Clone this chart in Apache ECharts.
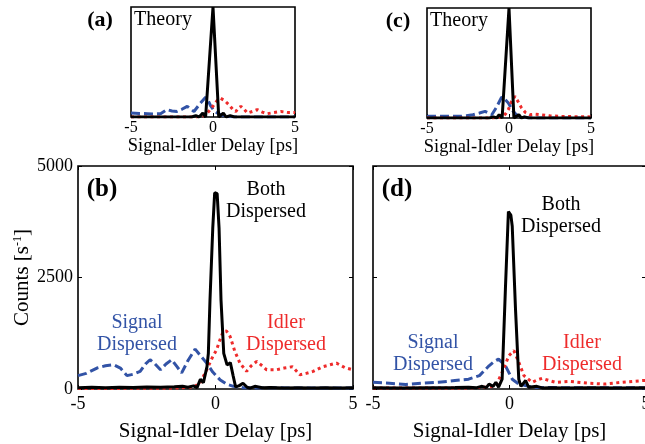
<!DOCTYPE html>
<html>
<head>
<meta charset="utf-8">
<script src="https://cdn.jsdelivr.net/npm/echarts@6/dist/echarts.min.js"></script>
<style>
  html, body { margin: 0; padding: 0; background: #fff; }
  #chart { width: 645px; height: 444px; }
</style>
</head>
<body>
<div id="chart"></div>
<script>
var FONT = '"Liberation Serif", "Times New Roman", serif'
var BLUE = '#3253a6'
var RED = '#ee2b2b'

// x ticks shared by all panels
var xTicks = [-5, 0, 5]
var countTicks = [0, 2500, 5000]

// (a) theory, normalised
var aBoth = [[-5, 0], [-1.3, 0], [-1.05, 0.012], [-0.85, 0], [-0.62, 0.035], [-0.45, 0], [-0.35, 0], [0, 1.0], [0.35, 0], [0.45, 0], [0.63, 0.036], [0.8, 0], [1.05, 0.012], [1.3, 0], [5, 0]]
var aSignal = [[-5, 0.036], [-4.5, 0.032], [-4, 0.03], [-3.6, 0.028], [-3.2, 0.03], [-2.8, 0.067], [-2.5, 0.055], [-2.2, 0.05], [-1.9, 0.07], [-1.57, 0.097], [-1.35, 0.07], [-1.16, 0.05], [-0.8, 0.12], [-0.45, 0.18], [-0.3, 0.15], [-0.14, 0.1], [0.05, 0.06], [0.27, 0.036], [0.55, 0.015], [0.9, 0.005], [1.5, 0], [5, 0]]
var aIdler = [[-5, 0], [-1, 0], [-0.6, 0.01], [-0.35, 0.036], [-0.15, 0.07], [0.06, 0.11], [0.25, 0.15], [0.47, 0.17], [0.7, 0.15], [0.98, 0.11], [1.2, 0.07], [1.39, 0.05], [1.55, 0.08], [1.7, 0.097], [1.9, 0.07], [2.1, 0.036], [2.4, 0.05], [2.7, 0.067], [3.0, 0.045], [3.3, 0.03], [3.7, 0.04], [4.14, 0.05], [4.6, 0.04], [5, 0.04]]

// (b) measured counts, s^-1
var bBoth = [[-5, 30], [-4.5, 40], [-4, 30], [-3.5, 40], [-3, 35], [-2.5, 45], [-2, 40], [-1.5, 50], [-1.2, 60], [-1, 40], [-0.8, 70], [-0.67, 30], [-0.55, 220], [-0.44, 140], [-0.31, 500], [-0.26, 800], [-0.2, 2000], [-0.1, 3600], [-0.03, 4400], [0.06, 4380], [0.13, 3600], [0.2, 2000], [0.3, 800], [0.42, 540], [0.54, 590], [0.64, 300], [0.73, 50], [0.85, 70], [1.0, 130], [1.15, 40], [1.25, 20], [1.43, 60], [1.7, 30], [2, 35], [2.5, 25], [3, 30], [3.5, 25], [4, 30], [4.5, 25], [5, 30]]
var bSignal = [[-5, 300], [-4.7, 350], [-4.31, 470], [-4, 520], [-3.7, 545], [-3.46, 470], [-3.22, 300], [-3, 330], [-2.74, 395], [-2.55, 560], [-2.38, 656], [-2.2, 560], [-2.0, 430], [-1.8, 560], [-1.59, 656], [-1.4, 500], [-1.23, 360], [-1.0, 640], [-0.74, 895], [-0.55, 750], [-0.32, 580], [-0.1, 380], [0.16, 210], [0.4, 110], [0.65, 60], [1, 30], [1.5, 25], [2, 30], [3, 20], [4, 25], [5, 20]]
var bIdler = [[-5, 10], [-3, 15], [-1.5, 20], [-0.8, 40], [-0.55, 150], [-0.32, 430], [-0.12, 700], [0.04, 880], [0.16, 1100], [0.28, 1290], [0.4, 1300], [0.53, 1180], [0.7, 850], [0.89, 580], [1.13, 395], [1.3, 520], [1.5, 620], [1.7, 520], [1.86, 430], [2.2, 430], [2.5, 470], [2.8, 500], [3.07, 320], [3.3, 350], [3.55, 395], [3.9, 500], [4.15, 540], [4.4, 580], [4.7, 480], [5, 430]]

// (c) theory, normalised
var cBoth = [[-5, 0], [-1.2, 0], [-0.95, 0.01], [-0.75, 0], [-0.6, 0.03], [-0.42, 0], [-0.3, 0], [0, 1.0], [0.3, 0], [0.42, 0], [0.6, 0.03], [0.75, 0], [0.95, 0.01], [1.2, 0], [5, 0]]
var cSignal = [[-5, 0.015], [-4, 0.015], [-3, 0.015], [-2.6, 0.02], [-2.2, 0.03], [-1.8, 0.045], [-1.46, 0.06], [-1.25, 0.045], [-1.05, 0.03], [-0.75, 0.1], [-0.45, 0.19], [-0.25, 0.17], [-0.04, 0.136], [0.1, 0.1], [0.26, 0.06], [0.45, 0.03], [0.67, 0.015], [1, 0.005], [1.5, 0], [5, 0]]
var cIdler = [[-5, 0], [-1, 0], [-0.4, 0.01], [-0.2, 0.04], [-0.04, 0.076], [0.15, 0.15], [0.36, 0.197], [0.55, 0.15], [0.77, 0.09], [1.0, 0.05], [1.27, 0.03], [1.6, 0.035], [1.9, 0.03], [2.5, 0.02], [3.1, 0.015], [4, 0.012], [5, 0.01]]

// (d) measured counts, s^-1
var dBoth = [[-5, 30], [-4, 25], [-3, 30], [-2, 35], [-1.5, 40], [-1.2, 30], [-1.0, 60], [-0.85, 30], [-0.75, 110], [-0.6, 60], [-0.5, 150], [-0.4, 40], [-0.27, 220], [-0.15, 2240], [-0.04, 3980], [0.05, 3900], [0.1, 3650], [0.22, 1790], [0.34, 220], [0.42, 60], [0.59, 190], [0.7, 40], [0.85, 50], [1.0, 60], [1.2, 25], [1.5, 30], [2, 25], [3, 30], [4, 25], [5, 30]]
var dSignal = [[-5, 150], [-4.4, 130], [-3.8, 100], [-3.2, 130], [-2.6, 150], [-2.0, 190], [-1.5, 220], [-1.1, 300], [-0.75, 520], [-0.55, 620], [-0.4, 670], [-0.15, 520], [0.1, 220], [0.34, 110], [0.7, 60], [1, 35], [2, 30], [3, 25], [4, 30], [5, 25]]
var dIdler = [[-5, 20], [-3, 20], [-1.5, 25], [-0.8, 40], [-0.5, 75], [-0.27, 370], [-0.02, 750], [0.16, 860], [0.34, 600], [0.53, 300], [0.83, 150], [1.0, 200], [1.2, 240], [1.45, 190], [1.7, 150], [2.2, 170], [2.9, 130], [3.5, 110], [4.1, 150], [4.5, 170], [4.9, 190], [5, 190]]

var grids = [
  { left: 131, top: 7, width: 164, height: 110 },
  { left: 78, top: 166, width: 275, height: 223 },
  { left: 427, top: 8, width: 164, height: 110 },
  { left: 373, top: 166, width: 273, height: 223 }
]
grids.forEach(function (g) {
  g.show = true
  g.borderColor = '#000'
  g.borderWidth = 1.6
  g.backgroundColor = 'transparent'
  g.outerBoundsMode = 'none'
  g.containLabel = false
})

var tick = { show: true, inside: true, length: 4, lineStyle: { color: '#000', width: 1 } }
var noLine = { show: false, onZero: false }

function fmtNum(v) { return v < 0 ? '-' + Math.abs(v) : String(v) }

function xAxisFor(i, small) {
  return {
    type: 'value', gridIndex: i, position: 'bottom', min: xTicks[0], max: xTicks[2], interval: 5,
    name: 'Signal-Idler Delay [ps]', nameLocation: 'middle',
    nameGap: small ? 17 : 32,
    nameTextStyle: { fontFamily: FONT, fontSize: small ? 18.5 : 21, color: '#000' },
    axisLine: noLine,
    axisTick: tick,
    splitLine: { show: false },
    axisLabel: { fontFamily: FONT, fontSize: small ? 16 : 18, color: '#000', margin: small ? 3 : 6, formatter: fmtNum }
  }
}

function topAxis(i) {
  return {
    type: 'value', gridIndex: i, position: 'top', min: xTicks[0], max: xTicks[2], interval: 5,
    axisLine: noLine, axisTick: tick, axisLabel: { show: false }, splitLine: { show: false }
  }
}

function theoryY(i) {
  return {
    type: 'value', gridIndex: i, min: 0, max: 1,
    axisLine: noLine, axisTick: { show: false },
    axisLabel: { show: false }, splitLine: { show: false }
  }
}

function countsY(i, labels, side) {
  var ax = {
    type: 'value', gridIndex: i, position: side || 'left',
    min: countTicks[0], max: countTicks[2], interval: 2500,
    axisLine: noLine,
    axisTick: tick,
    splitLine: { show: false },
    axisLabel: { show: labels, fontFamily: FONT, fontSize: 18, color: '#000', margin: 5, formatter: fmtNum }
  }
  if (labels) {
    ax.name = 'Counts [s{sup|-1}]'
    ax.nameLocation = 'middle'
    ax.nameRotate = 90
    ax.nameGap = 42
    ax.nameTextStyle = {
      fontFamily: FONT, fontSize: 21, color: '#000',
      rich: { sup: { fontFamily: FONT, fontSize: 12, color: '#000', verticalAlign: 'top', padding: [0, 0, 8, 0] } }
    }
  }
  return ax
}

function line(i, data, kind) {
  var style = { color: '#000', width: 3, type: 'solid' }
  if (kind === 'signal') style = { color: BLUE, width: 3, type: [9, 4] }
  if (kind === 'idler') style = { color: RED, width: 3, type: [3, 3.5] }
  return {
    type: 'line', xAxisIndex: i, yAxisIndex: i, data: data,
    showSymbol: false, symbol: 'none', smooth: false, clip: true,
    lineStyle: style, silent: true, animation: false
  }
}

function label(cx, cy, text, opt) {
  opt = opt || {}
  return {
    type: 'text', x: cx, y: cy, z: 100,
    style: {
      text: text, fontFamily: FONT, fontSize: opt.size || 20,
      fontWeight: opt.bold ? 'bold' : 'normal',
      fill: opt.color || '#000', align: 'center', verticalAlign: 'middle',
      lineHeight: opt.lh || 22
    }
  }
}

var option = {
  animation: false,
  grid: grids,
  xAxis: [xAxisFor(0, true), xAxisFor(1, false), xAxisFor(2, true), xAxisFor(3, false), topAxis(1), topAxis(3)],
  yAxis: [theoryY(0), countsY(1, true), theoryY(2), countsY(3, false), countsY(1, false, 'right'), countsY(3, false, 'right')],
  series: [
    line(0, aSignal, 'signal'), line(0, aIdler, 'idler'), line(0, aBoth, 'both'),
    line(1, bSignal, 'signal'), line(1, bIdler, 'idler'), line(1, bBoth, 'both'),
    line(2, cSignal, 'signal'), line(2, cIdler, 'idler'), line(2, cBoth, 'both'),
    line(3, dSignal, 'signal'), line(3, dIdler, 'idler'), line(3, dBoth, 'both')
  ],
  graphic: [
    label(100, 20, '(a)', { bold: true, size: 22 }),
    label(163, 20, 'Theory', { size: 20 }),
    label(398, 21, '(c)', { bold: true, size: 22 }),
    label(459, 21, 'Theory', { size: 20 }),
    label(102, 190, '(b)', { bold: true, size: 25 }),
    label(266, 201, 'Both\nDispersed', { size: 20 }),
    label(137, 334, 'Signal\nDispersed', { size: 20, color: BLUE }),
    label(286, 334, 'Idler\nDispersed', { size: 20, color: RED }),
    label(397, 190, '(d)', { bold: true, size: 25 }),
    label(561, 216, 'Both\nDispersed', { size: 20 }),
    label(433, 354, 'Signal\nDispersed', { size: 20, color: BLUE }),
    label(582, 354, 'Idler\nDispersed', { size: 20, color: RED })
  ]
}

var chart = echarts.init(document.getElementById('chart'), null, { renderer: 'canvas' })
chart.setOption(option)
</script>
</body>
</html>
